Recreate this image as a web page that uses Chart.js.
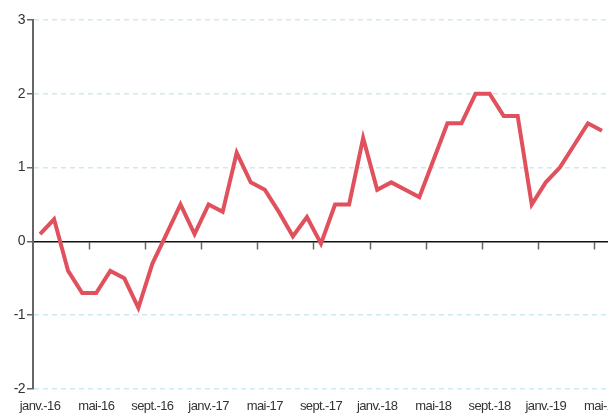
<!DOCTYPE html>
<html>
<head>
<meta charset="utf-8">
<script src="https://cdn.jsdelivr.net/npm/chart.js@4/dist/chart.umd.min.js"></script>
<style>
  html, body { margin: 0; padding: 0; background: #fff; overflow: hidden; }
  #wrap { position: relative; width: 609px; height: 414px; }
</style>
</head>
<body>
<div id="wrap"><canvas id="chart"></canvas></div>
<script>
// monthly labels, janv.-16 .. mai-19
const months = ['janv.', 'févr.', 'mars', 'avr.', 'mai', 'juin', 'juil.', 'août', 'sept.', 'oct.', 'nov.', 'déc.'];
const labels = [];
for (let y = 16; y <= 19; y++) {
    for (let m = 0; m < 12; m++) {
        if (y === 19 && m > 4) break;
        labels.push(months[m] + '-' + y);
    }
}

const values2016 = [0.1, 0.3, -0.4, -0.7, -0.7, -0.4, -0.5, -0.9, -0.3, 0.1, 0.5, 0.1];
const values2017 = [0.5, 0.4, 1.2, 0.8, 0.7, 0.4, 0.07, 0.33, -0.03, 0.5, 0.5, 1.4];
const values2018 = [0.7, 0.8, 0.7, 0.6, 1.1, 1.6, 1.6, 2.0, 2.0, 1.7, 1.7, 0.5];
const values2019 = [0.8, 1.0, 1.3, 1.6, 1.5];
const values = [...values2016, ...values2017, ...values2018, ...values2019];

const yTicks = [-2, -1, 0, 1, 2, 3];

const fontFamily = "'Liberation Sans', Arial, sans-serif";

// squeeze the text a bit, the original uses a narrow font
const narrowText = {
    id: 'narrowText',
    beforeDraw(chart) { chart.ctx.letterSpacing = '-0.6px'; }
};

new Chart(document.getElementById('chart'), {
    type: 'line',
    data: {
        labels: labels,
        datasets: [{
            data: values,
            borderColor: '#e0515d',
            borderWidth: 4,
            pointRadius: 0,
            tension: 0,
            xAxisID: 'x',
            yAxisID: 'y'
        }]
    },
    plugins: [narrowText],
    options: {
        responsive: true,
        maintainAspectRatio: false,
        animation: false,
        layout: { padding: { top: 20, right: 0, bottom: 0, left: 0 } },
        plugins: { legend: { display: false }, tooltip: { enabled: false } },
        scales: {
            x: {
                type: 'category',
                position: 'bottom',
                offset: true,
                grid: { display: false, drawTicks: false },
                border: { display: false },
                ticks: {
                    autoSkip: false,
                    maxRotation: 0,
                    padding: 10,
                    color: '#333',
                    font: { family: fontFamily, size: 13 },
                    callback: (v, i) => (i % 4 === 0 ? labels[i] : '')
                },
                afterFit: s => { s.height = 25; s.paddingLeft = 0; s.paddingRight = 0; }
            },
            x2: {
                type: 'category',
                position: { y: 0 },
                offset: true,
                grid: {
                    offset: true,
                    drawOnChartArea: false,
                    tickLength: 7,
                    tickWidth: 1.5,
                    tickColor: ctx => (ctx.index % 4 === 0 && ctx.index > 0 ? '#666' : 'rgba(0,0,0,0)')
                },
                border: { display: true, color: '#111', width: 1.5 },
                ticks: { display: false },
                afterFit: s => { s.paddingLeft = 0; s.paddingRight = 0; }
            },
            y: {
                min: -2,
                max: 3,
                afterBuildTicks: s => { s.ticks = yTicks.map(v => ({ value: v })); },
                grid: {
                    color: ctx => (ctx.tick && ctx.tick.value === 0 ? 'rgba(0,0,0,0)' : '#cde9f4'),
                    lineWidth: 1.5,
                    tickLength: 6,
                    tickColor: '#666',
                    tickWidth: 1.5
                },
                border: {
                    display: true,
                    color: '#666',
                    width: 2,
                    dash: ctx => (ctx.tick ? [5, 4] : [])
                },
                ticks: {
                    padding: 2,
                    color: '#333',
                    font: { family: fontFamily, size: 14 }
                },
                afterFit: s => { s.width = 33; }
            }
        }
    }
});
</script>
</body>
</html>
